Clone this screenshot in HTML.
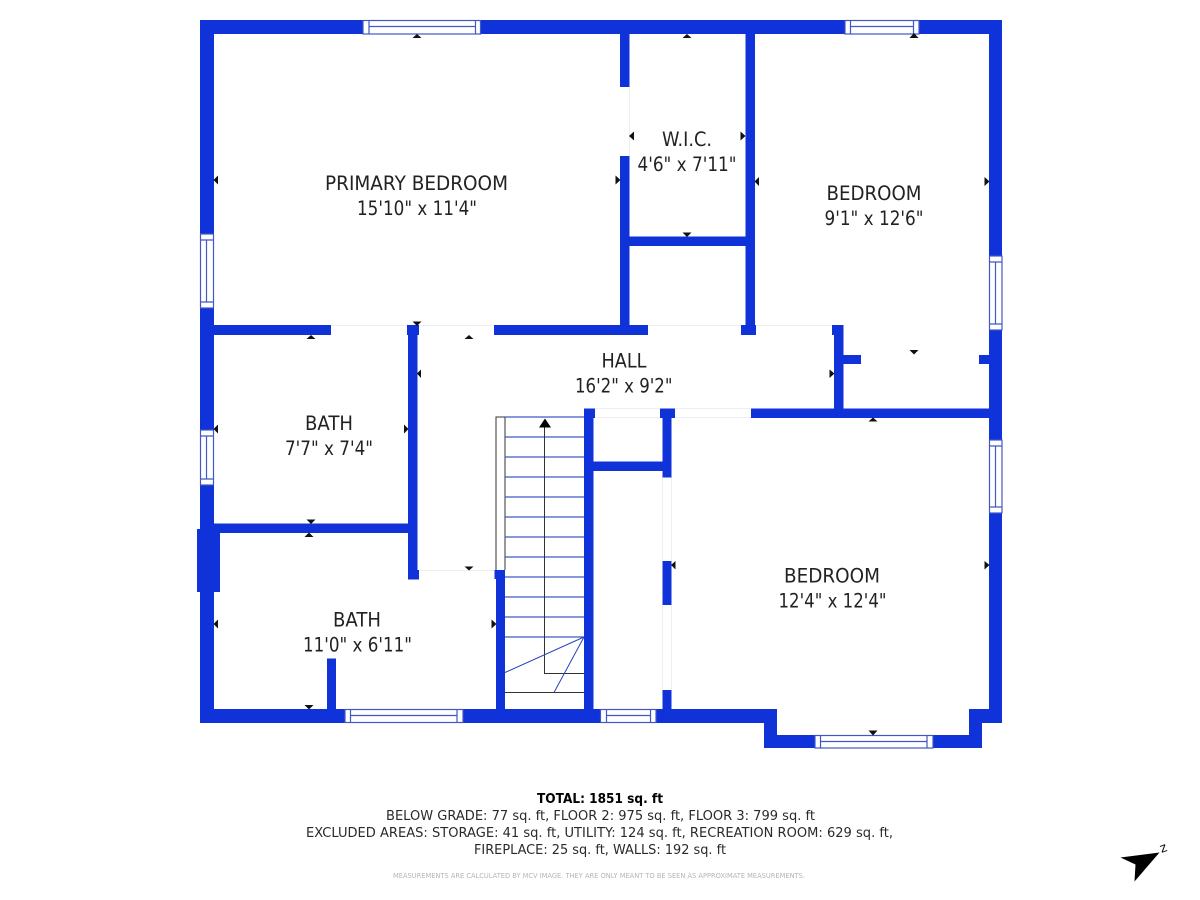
<!DOCTYPE html>
<html><head><meta charset="utf-8"><style>
html,body{margin:0;padding:0;background:#fff;width:1200px;height:900px;overflow:hidden}
svg{display:block}
text{font-family:"DejaVu Sans","Liberation Sans",sans-serif;fill:#1a1a1a}
.r{font-size:19.5px;fill:#222}
.f{font-size:13px;fill:#2a2a2a}
.w{fill:#fff;stroke:#4157c8;stroke-width:1.2}
.l{stroke:#4157c8;stroke-width:1.2;fill:none}
.g{stroke:#eeeeee;stroke-width:1;fill:none}
</style></head><body>
<svg width="1200" height="900" viewBox="0 0 1200 900" xmlns="http://www.w3.org/2000/svg">
<rect width="1200" height="900" fill="#fff"/>
<!-- door gaps -->
<path class="g" d="M331 325.5H407M419 325.5H494M648 325.5H741M756 325.5H832M629.5 87V156M418 570.5H495M595 408.5H660M595 417.5H660M675 408.5H751M675 417.5H751M662.5 477V561M671.5 477V561M662.5 605V690M671.5 605V690"/>
<g fill="#1033d9">
<!-- outer -->
<rect x="200" y="20" width="802" height="14"/>
<rect x="200" y="20" width="14" height="703"/>
<rect x="989" y="20" width="13" height="703"/>
<rect x="200" y="709" width="577" height="14"/>
<rect x="764" y="709" width="13" height="39"/>
<rect x="764" y="735" width="218" height="13"/>
<rect x="969" y="709" width="13" height="39"/>
<rect x="969" y="709" width="33" height="14"/>
<rect x="197" y="529" width="23" height="63"/>
<!-- interior -->
<rect x="214" y="325" width="117" height="10"/>
<rect x="407" y="325" width="12" height="10"/>
<rect x="494" y="325" width="154" height="10"/>
<rect x="620" y="34" width="9.5" height="53"/>
<rect x="620" y="156" width="9.5" height="170"/>
<rect x="745.5" y="34" width="9.5" height="292"/>
<rect x="741" y="325" width="15" height="10"/>
<rect x="629" y="236.5" width="117" height="9.5"/>
<rect x="832" y="325" width="11" height="10"/>
<rect x="834" y="325" width="9.5" height="85"/>
<rect x="843" y="355" width="18" height="9"/>
<rect x="979" y="355" width="10" height="9"/>
<rect x="751" y="408.5" width="238" height="9.5"/>
<rect x="408" y="325" width="9.5" height="254.5"/>
<rect x="408" y="570" width="11" height="9.5"/>
<rect x="214" y="523.5" width="194" height="9.5"/>
<rect x="327" y="658.5" width="9" height="51"/>
<rect x="496" y="570" width="9" height="140"/>
<rect x="494.5" y="570" width="10" height="9"/>
<rect x="584" y="408.5" width="9.5" height="301"/>
<rect x="584" y="408.5" width="11" height="9.5"/>
<rect x="660" y="408.5" width="15" height="9.5"/>
<rect x="662.5" y="408.5" width="9" height="69"/>
<rect x="593" y="461.5" width="70" height="9.5"/>
<rect x="662.5" y="561" width="9" height="44"/>
<rect x="662.5" y="690" width="9" height="20"/>
</g>
<!-- windows -->
<g>
<rect class="w" x="363" y="20.5" width="117.5" height="13.5"/><path class="l" d="M369 21V34M475.5 21V34M369 26.5H475.5"/>
<rect class="w" x="845" y="20.5" width="74" height="13.5"/><path class="l" d="M850.5 21V34M913.5 21V34M850.5 26.5H913.5"/>
<rect class="w" x="200.5" y="234" width="13" height="74"/><path class="l" d="M201 240H213M201 302H213M206.5 240V302"/>
<rect class="w" x="200.5" y="430" width="13" height="55"/><path class="l" d="M201 436H213M201 479H213M206.5 436V479"/>
<rect class="w" x="989.5" y="256" width="12.5" height="74"/><path class="l" d="M990 262H1002M990 324H1002M995.5 262V324"/>
<rect class="w" x="989.5" y="440" width="12.5" height="73"/><path class="l" d="M990 446H1002M990 507H1002M995.5 446V507"/>
<rect class="w" x="345" y="709.5" width="118" height="13"/><path class="l" d="M350.5 710V722M457 710V722M350.5 715.5H457"/>
<rect class="w" x="600.5" y="709.5" width="55.5" height="13"/><path class="l" d="M606.5 710V722M650.5 710V722M606.5 715.5H650.5"/>
<rect class="w" x="815" y="735.5" width="118" height="12.5"/><path class="l" d="M820.5 736V748M927 736V748M820.5 741.5H927"/>
</g>
<!-- stairs -->
<path d="M505 570V417H496V570" fill="none" stroke="#333" stroke-width="1"/>
<path class="l" d="M505 417H584M505 437H584M505 457H584M505 477H584M505 497H584M505 517H584M505 537H584M505 557H584M505 577H584M505 597H584M505 617H584M505 637H584"/>
<path d="M544.5 425V673.5H584M505 692.5H584" fill="none" stroke="#333" stroke-width="1"/>
<path d="M584 637L505 672.5M584 637L554 692.5" fill="none" stroke="#2b45b8" stroke-width="1"/>
<polygon points="545,418.500 551,427.500 539,427.500" fill="#000"/>
<!-- ticks -->
<g fill="#111">
<polygon points="417,34 421.500,38 412.500,38"/>
<polygon points="687,34 691.500,38 682.500,38"/>
<polygon points="914,33 918.500,38 909.500,38"/>
<polygon points="311,335 315.500,339 306.500,339"/>
<polygon points="469,335 473.500,339 464.500,339"/>
<polygon points="873,417.500 877.500,421.500 868.500,421.500"/>
<polygon points="309,532.500 313.500,537 304.500,537"/>
<polygon points="417,326 421.500,321.500 412.500,321.500"/>
<polygon points="687,237 691.500,232.500 682.500,232.500"/>
<polygon points="311,524 315.500,519.500 306.500,519.500"/>
<polygon points="469,570.500 473.500,566.500 464.500,566.500"/>
<polygon points="309,709.500 313.500,705 304.500,705"/>
<polygon points="914,354.500 918.500,350 909.500,350"/>
<polygon points="873,735.500 877.500,730.500 868.500,730.500"/>
<polygon points="213.500,180 218,175.500 218,184.500"/>
<polygon points="213.500,429 218,424.500 218,433.500"/>
<polygon points="213.500,624 218,619.500 218,628.500"/>
<polygon points="629,136 634,131.500 634,140.500"/>
<polygon points="754.500,181.500 759,177 759,186"/>
<polygon points="417,373.500 421,369.500 421,378"/>
<polygon points="671,565 675.500,561 675.500,569.500"/>
<polygon points="620.500,180 615.500,175.500 615.500,184.500"/>
<polygon points="745.500,136 740.500,131.500 740.500,140.500"/>
<polygon points="989.500,181.500 984.500,177 984.500,186"/>
<polygon points="408.500,429 404,424.500 404,433.500"/>
<polygon points="496.500,624 491.500,619.500 491.500,628.500"/>
<polygon points="834.500,373.500 829.500,369.500 829.500,378"/>
<polygon points="989.500,565 984.500,561 984.500,569.500"/>
</g>
<!-- labels -->
<g class="labels">
<text class="r" x="325" y="190" textLength="183" lengthAdjust="spacingAndGlyphs">PRIMARY BEDROOM</text>
<text class="r" x="357" y="215" textLength="120" lengthAdjust="spacingAndGlyphs">15'10" x 11'4"</text>
<text class="r" x="662" y="146" textLength="50" lengthAdjust="spacingAndGlyphs">W.I.C.</text>
<text class="r" x="637.5" y="171" textLength="99" lengthAdjust="spacingAndGlyphs">4'6" x 7'11"</text>
<text class="r" x="826.5" y="200" textLength="95" lengthAdjust="spacingAndGlyphs">BEDROOM</text>
<text class="r" x="824.5" y="225" textLength="99" lengthAdjust="spacingAndGlyphs">9'1" x 12'6"</text>
<text class="r" x="305" y="430" textLength="48" lengthAdjust="spacingAndGlyphs">BATH</text>
<text class="r" x="285" y="455" textLength="88" lengthAdjust="spacingAndGlyphs">7'7" x 7'4"</text>
<text class="r" x="333" y="626.5" textLength="48" lengthAdjust="spacingAndGlyphs">BATH</text>
<text class="r" x="303" y="651.5" textLength="109" lengthAdjust="spacingAndGlyphs">11'0" x 6'11"</text>
<text class="r" x="601.5" y="367.5" textLength="45" lengthAdjust="spacingAndGlyphs">HALL</text>
<text class="r" x="575" y="392.5" textLength="97.5" lengthAdjust="spacingAndGlyphs">16'2" x 9'2"</text>
<text class="r" x="784" y="582.5" textLength="96" lengthAdjust="spacingAndGlyphs">BEDROOM</text>
<text class="r" x="778.5" y="607.5" textLength="108" lengthAdjust="spacingAndGlyphs">12'4" x 12'4"</text>
</g>
<!-- footer -->
<text class="f" x="537" y="803" font-weight="700" textLength="126" lengthAdjust="spacingAndGlyphs" style="fill:#000">TOTAL: 1851 sq. ft</text>
<text class="f" x="386" y="820" textLength="429" lengthAdjust="spacingAndGlyphs">BELOW GRADE: 77 sq. ft, FLOOR 2: 975 sq. ft, FLOOR 3: 799 sq. ft</text>
<text class="f" x="306" y="837" textLength="587" lengthAdjust="spacingAndGlyphs">EXCLUDED AREAS: STORAGE: 41 sq. ft, UTILITY: 124 sq. ft, RECREATION ROOM: 629 sq. ft,</text>
<text class="f" x="474" y="854" textLength="252" lengthAdjust="spacingAndGlyphs">FIREPLACE: 25 sq. ft, WALLS: 192 sq. ft</text>
<text x="393" y="878" font-size="7" textLength="412" lengthAdjust="spacingAndGlyphs" style="fill:#b5b5b5">MEASUREMENTS ARE CALCULATED BY MCV IMAGE. THEY ARE ONLY MEANT TO BE SEEN AS APPROXIMATE MEASUREMENTS.</text>
<!-- north arrow -->
<polygon points="1120.5,857.5 1159.5,852.5 1134.5,881.5 1135.5,864.5" fill="#000"/>
<text x="0" y="0" font-size="13" transform="translate(1161.5,853) rotate(-20)" style="fill:#111">z</text>
</svg>
</body></html>
